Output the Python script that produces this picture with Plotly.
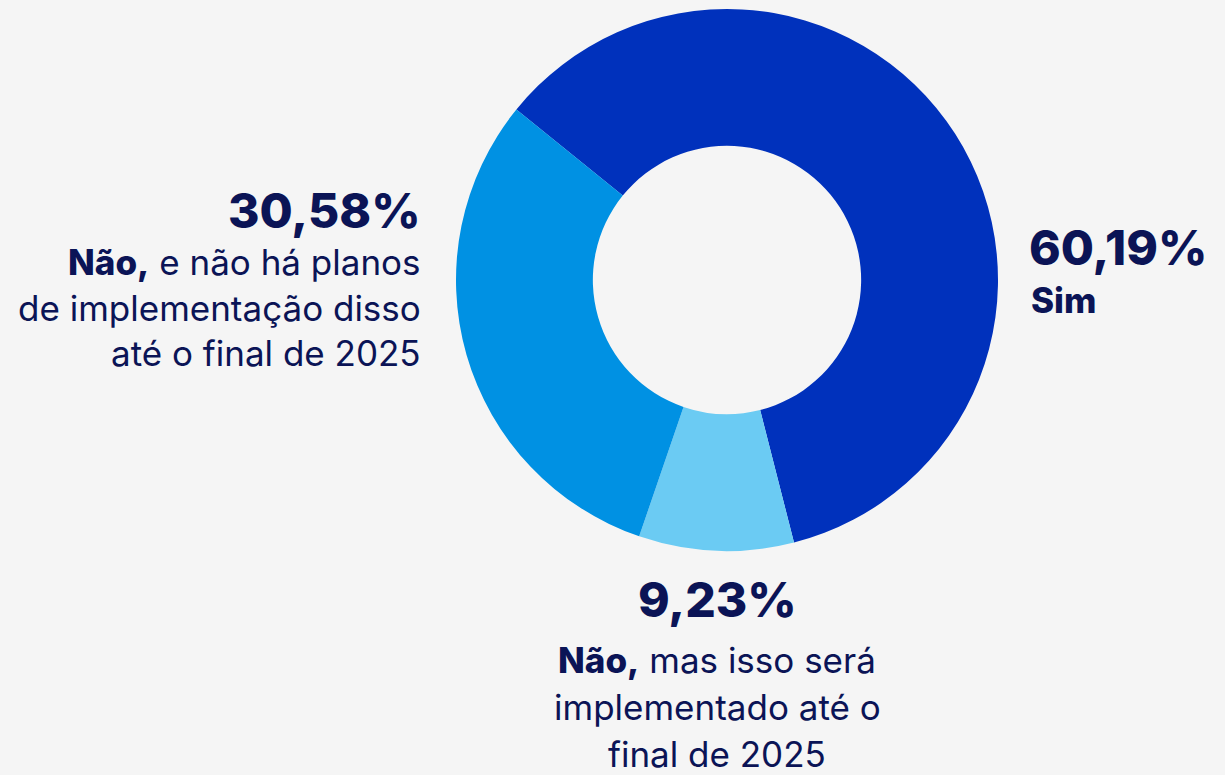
import plotly.graph_objects as go

# Survey answers and their shares (%)
categories = [
    "Sim",
    "Não, mas isso será implementado até o final de 2025",
    "Não, e não há planos de implementação disso até o final de 2025",
]
shares = [60.19, 9.23, 30.58]
slice_colors = ["#0031BC", "#6BCBF3", "#0091E3"]

W, H = 1225, 775
BG = "#F5F5F5"
INK = "#0B1456"
FONT = "Inter"


def fmt_pct(v):
    return f"{v:.2f}".replace(".", ",") + "%"


def px(x):
    return x / W


def py(y):
    return 1 - y / H


def strong(s):
    return f'<span style="font-weight:800">{s}</span>'


fig = go.Figure(
    go.Pie(
        labels=categories,
        values=shares,
        marker=dict(colors=slice_colors, line=dict(width=0)),
        hole=0.495,
        sort=False,
        direction="clockwise",
        rotation=-51,
        textinfo="none",
        hoverinfo="label+percent",
        showlegend=False,
        domain=dict(x=[px(455), px(999)], y=[py(551), py(9)]),
    )
)

annotations = []


def add_line(text, x, y, xanchor, size, weight="normal"):
    annotations.append(
        dict(
            text=text,
            x=px(x),
            y=py(y),
            xref="paper",
            yref="paper",
            xanchor=xanchor,
            yanchor="middle",
            showarrow=False,
            font=dict(family=FONT, size=size, color=INK, weight=weight),
        )
    )


PCT_SIZE = 48
BODY_SIZE = 35

# Left block: "Não, e não há planos ..."
add_line(fmt_pct(shares[2]), 423, 210, "right", PCT_SIZE, 800)
add_line(strong("Não,") + " e não há planos", 423, 262, "right", BODY_SIZE)
add_line("de implementação disso", 423, 308, "right", BODY_SIZE)
add_line("até o final de 2025", 423, 353, "right", BODY_SIZE)

# Right block: "Sim"
add_line(fmt_pct(shares[0]), 1027, 247, "left", PCT_SIZE, 800)
add_line(strong("Sim"), 1029, 300, "left", BODY_SIZE)

# Bottom block: "Não, mas isso será ..."
add_line(fmt_pct(shares[1]), 717, 599, "center", PCT_SIZE, 800)
add_line(strong("Não,") + " mas isso será", 717, 660, "center", BODY_SIZE)
add_line("implementado até o", 717, 707, "center", BODY_SIZE)
add_line("final de 2025", 717, 754, "center", BODY_SIZE)

fig.update_layout(
    width=W,
    height=H,
    margin=dict(l=0, r=0, t=0, b=0),
    paper_bgcolor=BG,
    plot_bgcolor=BG,
    annotations=annotations,
)

fig.write_html("out.html")
